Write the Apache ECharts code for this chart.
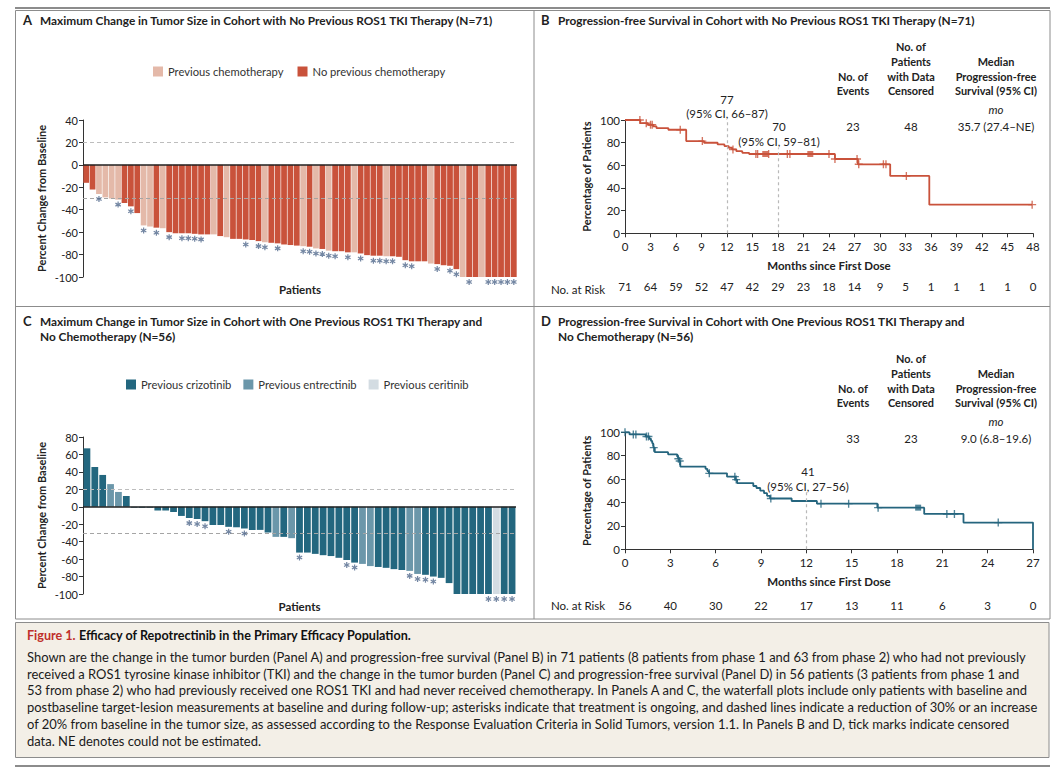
<!DOCTYPE html>
<html><head><meta charset="utf-8">
<script src="https://cdn.jsdelivr.net/npm/echarts@6/dist/echarts.min.js"></script>
<style>html,body{margin:0;padding:0;background:#fff}#c{width:1064px;height:772px}</style>
</head><body><div id="c"></div>
<script>
// ---------------- DATA ----------------
// Panel A: maximum change in tumor size (%), cohort with no previous ROS1 TKI
const aValues = [-16,-22,-26,-29,-30,-31,-34,-37,-43,-54,
  -55,-56,-56.5,-60,-61,-61,-61,-61.5,-62,-62,
  -62,-63.5,-64.5,-66,-66,-66.5,-67,-68,-69,-69.5,
  -70,-71,-71.5,-72,-72.5,-73,-74.5,-75,-76.5,-77,
  -77,-78,-78,-79,-80.5,-81,-81,-81.5,-81.5,-82,
  -85,-86,-86,-86,-88,-88.5,-89.5,-90,-93,
  -100,-100,-100,-100,-100,-100,-100,-100,-100];
// 1 = previous chemotherapy, 0 = no previous chemotherapy
const aPrevChemo = [0,0,1,1,1,1,0,0,0,1, 1,0,1,0,0,0,0,0,0,0, 1,0,1,0,0,0,0,0,1,0,
  0,0,0,0,1,0,1,0,1,0, 0,0,1,0,0,0,0,1,0,0, 0,0,0,0,1,0,0,0,0,1, 0,0,1,0,0,0,0,0];
// 1 = treatment ongoing (asterisk)
const aOngoing = [0,0,1,0,0,1,0,1,0,1, 0,1,0,1,0,1,1,1,1,0, 0,0,0,0,0,1,0,1,1,0,
  1,0,0,0,1,1,1,1,1,1, 0,1,0,1,0,1,1,1,1,0, 1,1,0,0,0,1,0,1,1,0, 1,0,0,1,1,1,1,1];
const aSeriesNames = ['Previous chemotherapy','No previous chemotherapy'];

// Panel C: cohort with one previous ROS1 TKI and no chemotherapy
const cValues = [67,45.6,36.5,26,17,12.4,-1,-1,-1,-4.4,
  -4.4,-6,-10.5,-13,-14,-16.5,-21,-21,-23,-23.5,
  -25,-26.5,-26.5,-29.5,-34.5,-34.5,-36,-52.5,-52.5,-54,
  -55.5,-56.5,-58.5,-61,-64,-65.5,-68,-69,-70,-71.5,
  -72.5,-73.5,-77,-78,-80,-81.5,-87.5,-100,-100,-100,
  -100,-100,-100,-100,-100];
// C = crizotinib, E = entrectinib, R = ceritinib
const cPriorTKI = 'CCCEEC' + 'CCCCCCCCCCCCCCCCCC' + 'ECE' + 'CCCCCCCC' + 'EE' + 'CCCC' + 'EE' + 'CCCCCCCCC' + 'R' + 'CC';
const cOngoing = [0,0,0,0,0,0,0,0,0,0, 0,0,0,1,1,1,0,0,1,0, 1,0,0,0,0,0,0,1,0,0,
  0,0,0,1,1,0,0,0,0,0, 0,1,1,1,1,0,0,0,0,0, 0,1,1,1,1];
const cSeriesNames = ['Previous crizotinib','Previous entrectinib','Previous ceritinib'];
const cCodes = ['C','E','R'];

// Panel B: Kaplan-Meier PFS, no previous ROS1 TKI (months, % event-free)
const kmBTime = [0,1.8,2.7,3.3,3.7,5.1,7.2,9.3,10.9,11.7,12.2,12.6,13.1,13.8,14.6,24.7,27.4,31.2,35.8,47.9];
const kmBSurv = [100,97.2,95.8,94.4,92.9,91.4,81.4,79.9,78.4,77.0,75.5,74.0,72.5,71.0,70.0,65.6,60.9,50.6,25.3,25.3];
const censorB = [1.75,2.5,3.0,3.2,6.5,9.1,12.7,15.4,15.6,16.9,19.1,19.4,24.0,24.7,27.3,27.5,30.4,30.7,33.1,47.9];
const censorBMulti = [16.5,21.8];
const riskB = [71,64,59,52,47,42,29,23,18,14,9,5,1,1,1,1,0];

// Panel D: Kaplan-Meier PFS, one previous ROS1 TKI
const kmDTime = [0,0.3,1.38,1.6,1.72,1.8,1.86,1.9,1.97,2.85,3.45,3.52,3.6,3.66,5.33,5.45,5.55,6.75,7.3,7.42,8.49,8.7,8.95,9.2,9.4,9.6,11.03,12.7,16.7,19.8,22.4,27.0];
const kmDSurv = [100,98.2,96.4,94.5,92.6,90.7,88.8,86.9,83.0,81.2,79.3,77.4,75.5,70.7,68.8,66.9,64.9,62.1,59.6,56.6,54.1,52.4,50.1,48.0,45.7,43.4,41.3,39.0,35.6,30.2,22.8,0];
const censorD = [0,0.55,0.72,1.42,1.55,1.9,3.53,3.62,5.58,7.27,7.36,9.65,12.97,14.8,16.75,21.3,21.8,24.7];
const censorDMulti = [19.4];
const riskD = [56,40,30,22,17,13,11,6,3,0];

// ---------------- STYLE ----------------
const FONT = 'Lato';
const RED = '#c9523b', PINK = '#e4b9a9';
const TEAL = ['#23677f','#6b97aa','#d3dce2'];
const KMB = '#c9523b', KMD = '#25657e';
const INK = '#222';

const ctx = document.createElement('canvas').getContext('2d');
function textW(t, font){ ctx.font = font; return ctx.measureText(t).width; }

function survAt(times, surv, t){ let s = surv[0]; for (let i=0;i<times.length;i++){ if (times[i] <= t) s = surv[i]; } return s; }

function starPath(){
  let d = '';
  for (const a of [0,60,120]) {
    const r = a*Math.PI/180, c = Math.cos(r), s = Math.sin(r), w = 0.2, l = 1;
    const pts = [[-w,-l],[w,-l],[w,l],[-w,l]].map(([x,y]) => [x*c - y*s, x*s + y*c]);
    d += 'M' + pts.map(p => p[0].toFixed(3)+','+p[1].toFixed(3)).join('L') + 'Z';
  }
  return 'path://' + d;
}
const STAR = starPath();
const CROSS = 'path://M-1,-0.17L1,-0.17L1,0.17L-1,0.17Z M-0.17,-1L0.17,-1L0.17,1L-0.17,1Z';

// ---------------- AXES HELPERS ----------------
const lbl = (sz) => ({fontFamily: FONT, fontSize: sz, color: INK});
function barYAxis(grid, min, max){
  return {type:'value', gridIndex:grid, min, max, interval:20,
    axisLine:{show:true, lineStyle:{color:'#333', width:1}},
    axisTick:{show:true, length:4, lineStyle:{color:'#333'}},
    axisLabel:Object.assign(lbl(11), {margin:5}),
    splitLine:{show:false},
    name:'Percent Change from Baseline', nameLocation:'middle', nameGap:36,
    nameTextStyle:{fontFamily:FONT, fontSize:11, fontWeight:'bold', color:INK}};
}
function barXAxis(grid, cats){
  return {type:'category', gridIndex:grid, data:cats,
    axisLine:{show:false}, axisTick:{show:false}, axisLabel:{show:false}, splitLine:{show:false},
    name:'Patients', nameLocation:'middle', nameGap:6,
    nameTextStyle:{fontFamily:FONT, fontSize:11.5, fontWeight:'bold', color:INK}};
}
function kmXAxis(grid, max){
  return {type:'value', gridIndex:grid, min:0, max, interval:3,
    axisLine:{show:true, onZero:false, lineStyle:{color:'#333', width:1}},
    axisTick:{show:true, length:4, lineStyle:{color:'#333'}},
    axisLabel:Object.assign(lbl(11.5), {margin:7}),
    splitLine:{show:false},
    name:'Months since First Dose', nameLocation:'middle', nameGap:26,
    nameTextStyle:{fontFamily:FONT, fontSize:11.5, fontWeight:'bold', color:INK}};
}
function riskAxis(grid, max, risk, off){
  return {type:'value', gridIndex:grid, min:0, max, interval:3, position:'bottom', offset:off,
    axisLine:{show:false}, axisTick:{show:false}, splitLine:{show:false},
    axisLabel:Object.assign(lbl(11.5), {margin:0, formatter:(v)=>String(risk[Math.round(v/3)])})};
}
function kmYAxis(grid){
  return {type:'value', gridIndex:grid, min:0, max:100, interval:20,
    axisLine:{show:true, lineStyle:{color:'#333', width:1}},
    axisTick:{show:true, length:4, lineStyle:{color:'#333'}},
    axisLabel:Object.assign(lbl(11.5), {margin:5}),
    splitLine:{show:false},
    name:'Percentage of Patients', nameLocation:'middle', nameGap:33,
    nameTextStyle:{fontFamily:FONT, fontSize:11, fontWeight:'bold', color:INK}};
}
const refLines = (lines) => ({silent:true, symbol:'none', label:{show:false}, animation:false, data: lines});
const dash = (v, c) => ({yAxis:v, lineStyle:{type:[4,3], color:c, width:1.2}});

// ---------------- SERIES ----------------
const series = [];
const catsA = aValues.map((_,i)=>String(i+1));
const catsC = cValues.map((_,i)=>String(i+1));

[PINK, RED].forEach((col, k) => {
  series.push({type:'bar', name:aSeriesNames[k], xAxisIndex:0, yAxisIndex:0,
    data: aValues.map((v,i)=> (aPrevChemo[i] === (k===0?1:0)) ? v : '-'),
    itemStyle:{color:col}, barGap:'-100%', barCategoryGap:'10%', z:2,
    markLine: k===1 ? refLines([dash(20,'#bdbdbd'), dash(-30,'#a5a5a5'),
      {yAxis:0, lineStyle:{type:'solid', color:'#222', width:1.5}}]) : undefined});
});
series.push({type:'scatter', xAxisIndex:0, yAxisIndex:0, symbol:STAR, symbolSize:6, symbolOffset:[0,5],
  itemStyle:{color:'#51698c'}, z:5, silent:true,
  data: aValues.map((v,i)=> aOngoing[i] ? [i, v] : null).filter(Boolean)});

TEAL.forEach((col, k) => {
  series.push({type:'bar', name:cSeriesNames[k], xAxisIndex:1, yAxisIndex:1,
    data: cValues.map((v,i)=> cPriorTKI[i] === cCodes[k] ? v : '-'),
    itemStyle:{color:col}, barGap:'-100%', barCategoryGap:'14%', z:2,
    markLine: k===2 ? refLines([dash(20,'#bdbdbd'), dash(-30,'#a5a5a5'),
      {yAxis:0, lineStyle:{type:'solid', color:'#222', width:1.5}}]) : undefined});
});
series.push({type:'scatter', xAxisIndex:1, yAxisIndex:1, symbol:STAR, symbolSize:6, symbolOffset:[0,5],
  itemStyle:{color:'#51698c'}, z:5, silent:true,
  data: cValues.map((v,i)=> cOngoing[i] ? [i, v] : null).filter(Boolean)});

// KM panel B
series.push({type:'line', xAxisIndex:2, yAxisIndex:2, step:'end', showSymbol:false, symbol:'none', clip:false,
  data: kmBTime.map((t,i)=>[t, kmBSurv[i]]), lineStyle:{color:KMB, width:1.8}, z:3, silent:true,
  markLine:{silent:true, symbol:'none', label:{show:false}, lineStyle:{type:[3,3], color:'#b9b9b9', width:1.2},
    data:[[{coord:[12,0]},{coord:[12,100]}],[{coord:[18,0]},{coord:[18,75]}]]}});
series.push({type:'scatter', xAxisIndex:2, yAxisIndex:2, symbol:CROSS, symbolSize:8, itemStyle:{color:KMB}, z:4, silent:true,
  data: censorB.map(t=>[t, survAt(kmBTime,kmBSurv,t)])});
series.push({type:'scatter', xAxisIndex:2, yAxisIndex:2, symbol:'rect', symbolSize:6, itemStyle:{color:KMB}, z:4, silent:true,
  data: censorBMulti.map(t=>[t, survAt(kmBTime,kmBSurv,t)])});

// KM panel D
series.push({type:'line', xAxisIndex:4, yAxisIndex:3, step:'end', showSymbol:false, symbol:'none', clip:false,
  data: kmDTime.map((t,i)=>[t, kmDSurv[i]]), lineStyle:{color:KMD, width:1.8}, z:3, silent:true,
  markLine:{silent:true, symbol:'none', label:{show:false}, lineStyle:{type:[3,3], color:'#b9b9b9', width:1.2},
    data:[[{coord:[12,0]},{coord:[12,50.5]}]]}});
series.push({type:'scatter', xAxisIndex:4, yAxisIndex:3, symbol:CROSS, symbolSize:8, itemStyle:{color:KMD}, z:4, silent:true,
  data: censorD.map(t=>[t, survAt(kmDTime,kmDSurv,t)])});
series.push({type:'scatter', xAxisIndex:4, yAxisIndex:3, symbol:'rect', symbolSize:6, itemStyle:{color:KMD}, z:4, silent:true,
  data: censorDMulti.map(t=>[t, survAt(kmDTime,kmDSurv,t)])});

// ---------------- GRAPHICS (frames, titles, tables, caption) ----------------
const G = [];
function T(text, x, y, o){
  o = o || {};
  const size = o.size || 11.5;
  const font = (o.italic?'italic ':'') + (o.bold?'bold ':'') + size + 'px ' + FONT;
  G.push({type:'text', x, y, scaleX:o.sx||1, silent:true, z:10,
    style:{text, fill:o.fill||INK, font, align:o.align||'left', verticalAlign:'middle'}});
}
function L(x1,y1,x2,y2,w,c){ G.push({type:'line', silent:true, z:1, shape:{x1,y1,x2,y2}, style:{stroke:c||'#8c8c8c', lineWidth:w||1}}); }

// frames
L(15,8,1050,8,2,'#8c8c8c');
G.push({type:'rect', silent:true, z:0, shape:{x:15.5,y:10.5,width:1034.5,height:608.5}, style:{fill:'none', stroke:'#8c8c8c', lineWidth:1}});
L(534,10.5,534,619,1,'#8c8c8c');
L(15.5,306.5,1050,306.5,1.2,'#8c8c8c');
G.push({type:'rect', silent:true, z:0, shape:{x:15.5,y:622.5,width:1033.5,height:135}, style:{fill:'#f3efe7', stroke:'#8c8c8c', lineWidth:1}});
L(15,766,1050,766,2,'#8c8c8c');

// panel titles
const TF = 'bold 12px ' + FONT;
const titleA = 'Maximum Change in Tumor Size in Cohort with No Previous ROS1 TKI Therapy (N=71)';
const sxT = 455 / textW(titleA, TF);
T('A', 23, 20, {bold:true, size:13});
T(titleA, 40, 20, {bold:true, size:12, sx:sxT});
T('B', 541, 20, {bold:true, size:13});
T('Progression-free Survival in Cohort with No Previous ROS1 TKI Therapy (N=71)', 558, 20, {bold:true, size:12, sx:sxT});
T('C', 23, 321, {bold:true, size:13});
T('Maximum Change in Tumor Size in Cohort with One Previous ROS1 TKI Therapy and', 40, 321, {bold:true, size:12, sx:sxT});
T('No Chemotherapy (N=56)', 40, 336, {bold:true, size:12, sx:sxT});
T('D', 541, 321, {bold:true, size:13});
T('Progression-free Survival in Cohort with One Previous ROS1 TKI Therapy and', 558, 321, {bold:true, size:12, sx:sxT});
T('No Chemotherapy (N=56)', 558, 336, {bold:true, size:12, sx:sxT});

// summary tables for KM panels
function table(dy, events, censored, median){
  const o = {bold:true, size:11.5, align:'center', sx:0.95};
  T('No. of', 853, 76+dy, o); T('Events', 853, 90+dy, o);
  T('No. of', 911, 46+dy, o); T('Patients', 911, 61+dy, o); T('with Data', 911, 76+dy, o); T('Censored', 911, 90+dy, o);
  T('Median', 996, 61+dy, o); T('Progression-free', 996, 76+dy, o); T('Survival (95% CI)', 996, 90+dy, o);
  T('mo', 996, 109+dy, {italic:true, size:11.5, align:'center'});
  T(events, 853, 126+dy, {align:'center'}); T(censored, 911, 126+dy, {align:'center'}); T(median, 996, 126+dy, {align:'center'});
}
table(0, '23', '48', '35.7 (27.4\u2013NE)');
table(312, '33', '23', '9.0 (6.8\u201319.6)');

// landmark annotations
T('77', 727, 99, {align:'center'}); T('(95% CI, 66\u201387)', 727, 113, {align:'center'});
T('70', 779, 126, {align:'center'}); T('(95% CI, 59\u201381)', 779, 141, {align:'center'});
T('41', 808, 471, {align:'center'}); T('(95% CI, 27\u201356)', 808, 486, {align:'center'});

// at-risk row labels
T('No. at Risk', 551, 289, {size:11.5});
T('No. at Risk', 551, 605, {size:11.5});

// caption
const capTitle = 'Figure 1. Efficacy of Repotrectinib in the Primary Efficacy Population.';
const sxCT = 385 / textW(capTitle, 'bold 12.5px ' + FONT);
G.push({type:'text', x:27, y:636, scaleX:sxCT, silent:true, z:10,
  style:{text:'{r|Figure 1.} {b|Efficacy of Repotrectinib in the Primary Efficacy Population.}', verticalAlign:'middle', align:'left',
    rich:{r:{fill:'#c0302b', font:'bold 12.5px '+FONT}, b:{fill:'#111', font:'bold 12.5px '+FONT}}}});
const capLines = [
  'Shown are the change in the tumor burden (Panel A) and progression-free survival (Panel B) in 71 patients (8 patients from phase 1 and 63 from phase 2) who had not previously',
  'received a ROS1 tyrosine kinase inhibitor (TKI) and the change in the tumor burden (Panel C) and progression-free survival (Panel D) in 56 patients (3 patients from phase 1 and',
  '53 from phase 2) who had previously received one ROS1 TKI and had never received chemotherapy. In Panels A and C, the waterfall plots include only patients with baseline and',
  'postbaseline target-lesion measurements at baseline and during follow-up; asterisks indicate that treatment is ongoing, and dashed lines indicate a reduction of 30% or an increase',
  'of 20% from baseline in the tumor size, as assessed according to the Response Evaluation Criteria in Solid Tumors, version 1.1. In Panels B and D, tick marks indicate censored',
  'data. NE denotes could not be estimated.'];
const sxC = 1001 / textW(capLines[0], '13px ' + FONT);
capLines.forEach((s,k)=> T(s, 27, 657 + k*16.7, {size:13, sx:sxC, fill:'#1a1a1a'}));

// ---------------- OPTION ----------------
const option = {
  animation:false,
  backgroundColor:'#ffffff',
  textStyle:{fontFamily:FONT},
  grid:[
    {left:83, top:120, width:434, height:157, outerBoundsMode:'none'},
    {left:83, top:437, width:433, height:157, outerBoundsMode:'none'},
    {left:625, top:120, width:408, height:113.3, outerBoundsMode:'none'},
    {left:625, top:432.3, width:408, height:117, outerBoundsMode:'none'}
  ],
  xAxis:[barXAxis(0, catsA), barXAxis(1, catsC), kmXAxis(2,48), riskAxis(2,48,riskB,47), kmXAxis(3,27), riskAxis(3,27,riskD,50)],
  yAxis:[barYAxis(0,-100,40), barYAxis(1,-100,80), kmYAxis(2), kmYAxis(3)],
  legend:[
    {data:aSeriesNames, left:153, top:66, padding:0, icon:'rect', itemWidth:10, itemHeight:10, itemGap:14, selectedMode:false,
      textStyle:{fontFamily:FONT, fontSize:11.2, color:'#333'}},
    {data:cSeriesNames, left:126, top:379, padding:0, icon:'rect', itemWidth:10, itemHeight:10, itemGap:12, selectedMode:false,
      textStyle:{fontFamily:FONT, fontSize:11.2, color:'#333'}}
  ],
  series,
  graphic:{elements:G}
};
const chart = echarts.init(document.getElementById('c'), null, {renderer:'svg', width:1064, height:772});
chart.setOption(option);
</script>
</body></html>
